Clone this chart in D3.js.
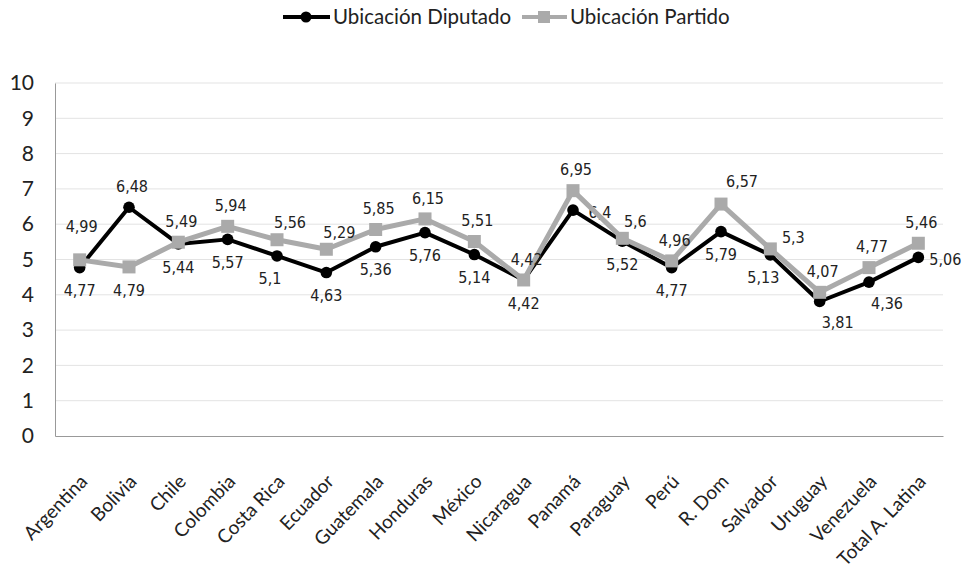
<!DOCTYPE html>
<html><head><meta charset="utf-8">
<script src="https://cdn.jsdelivr.net/npm/d3@7"></script>
<style>body{margin:0;background:#fff}</style>
</head><body>
<svg id="c" width="966" height="571"></svg>
<script>
const categories = ["Argentina","Bolivia","Chile","Colombia","Costa Rica","Ecuador","Guatemala","Honduras","México","Nicaragua","Panamá","Paraguay","Perú","R. Dom","Salvador","Uruguay","Venezuela","Total A. Latina"];
const diputado = [4.77,6.48,5.44,5.57,5.1,4.63,5.36,5.76,5.14,4.42,6.4,5.52,4.77,5.79,5.13,3.81,4.36,5.06];
const partido  = [4.99,4.79,5.49,5.94,5.56,5.29,5.85,6.15,5.51,4.42,6.95,5.6,4.96,6.57,5.3,4.07,4.77,5.46];
const yTicks = [0,1,2,3,4,5,6,7,8,9,10];
const seriesNames = ["Ubicación Diputado","Ubicación Partido"];
// label placement keywords
const diputadoPlace = ["b","t","b","b","bl","b","b","b","b","b","r","b","b","b","bl","br","br","r"];
const partidoPlace  = ["tt","b","t","t","tr","tr","t","t","t","t","t","tr","t","tr2","r2","t","t","t"];

const offsets = {
  t:[3,-21], tt:[2,-33], b:[0,23], bl:[-7,22], br:[18,21], r:[27,2],
  tr:[13,-17], tr2:[21,-23], r2:[23,-12]
};

const svg = d3.select("#c");
const M = {l:55, r:943, t:83, b:436};
const x = d3.scaleBand().domain(categories).range([M.l, M.r]);
const y = d3.scaleLinear().domain([0,10]).range([M.b, M.t]);
const cx = d => x(d) + x.bandwidth()/2;
const font = "Lato, 'Open Sans', sans-serif";
const labFont = "'Liberation Sans Narrow', 'DejaVu Sans Condensed', sans-serif";

// gridlines
svg.append("g").selectAll("line").data(yTicks.filter(t=>t>0)).join("line")
  .attr("x1", M.l).attr("x2", M.r).attr("y1", d=>y(d)).attr("y2", d=>y(d))
  .attr("stroke", "#e3e3e3").attr("stroke-width", 1);

// y axis
const ya = svg.append("g").attr("transform", `translate(${M.l},0)`)
  .call(d3.axisLeft(y).tickValues(yTicks).tickSize(0).tickPadding(21).tickFormat(d3.format("d")));
ya.select(".domain").attr("stroke", "#999");
ya.selectAll("text").attr("font-family", font).attr("font-size", 21).attr("fill", "#222");

// x axis
const xa = svg.append("g").attr("transform", `translate(0,${M.b})`)
  .call(d3.axisBottom(x).tickSize(0).tickPadding(0));
xa.select(".domain").attr("stroke", "#999");
xa.selectAll("text")
  .attr("font-family", font).attr("font-size", 19).attr("fill", "#222")
  .attr("text-anchor", "end")
  .attr("transform", "translate(4,42) rotate(-46)")
  .attr("dy", "0.35em").attr("y", 0);

const line = d3.line().x((d,i)=>cx(categories[i])).y(d=>y(d));

function drawSeries(vals, color, width, shape, place) {
  svg.append("path").datum(vals).attr("d", line).attr("fill","none")
    .attr("stroke", color).attr("stroke-width", width).attr("stroke-linejoin","round");
  const g = svg.append("g");
  if (shape === "circle") {
    g.selectAll("circle").data(vals).join("circle")
      .attr("cx",(d,i)=>cx(categories[i])).attr("cy", d=>y(d)).attr("r", 5.8).attr("fill", color);
  } else {
    g.selectAll("rect").data(vals).join("rect")
      .attr("x",(d,i)=>cx(categories[i])-6.5).attr("y", d=>y(d)-6.5)
      .attr("width",13).attr("height",13).attr("fill", color);
  }
  svg.append("g").selectAll("text").data(vals).join("text")
    .attr("x",(d,i)=>cx(categories[i]) + offsets[place[i]][0])
    .attr("y",(d,i)=>y(d) + offsets[place[i]][1])
    .attr("dy","0.35em").attr("text-anchor","middle")
    .attr("font-family", labFont).attr("font-size", 16).attr("fill","#222")
    .text(d => String(d).replace(".", ","));
}
drawSeries(diputado, "#000", 4, "circle", diputadoPlace);
drawSeries(partido, "#aaaaaa", 5, "square", partidoPlace);

// legend
const lg = svg.append("g");
lg.append("line").attr("x1",283).attr("x2",330).attr("y1",17).attr("y2",17).attr("stroke","#000").attr("stroke-width",4);
lg.append("circle").attr("cx",306).attr("cy",17).attr("r",5.5).attr("fill","#000");
lg.append("text").attr("x",333).attr("y",17).attr("dy","0.35em").attr("font-family",font).attr("font-size",20.5).attr("fill","#222").text(seriesNames[0]);
lg.append("line").attr("x1",522).attr("x2",567).attr("y1",17).attr("y2",17).attr("stroke","#aaaaaa").attr("stroke-width",4);
lg.append("rect").attr("x",538).attr("y",11).attr("width",12).attr("height",12).attr("fill","#aaaaaa");
lg.append("text").attr("x",570).attr("y",17).attr("dy","0.35em").attr("font-family",font).attr("font-size",20.5).attr("fill","#222").text(seriesNames[1]);
</script>
</body></html>
